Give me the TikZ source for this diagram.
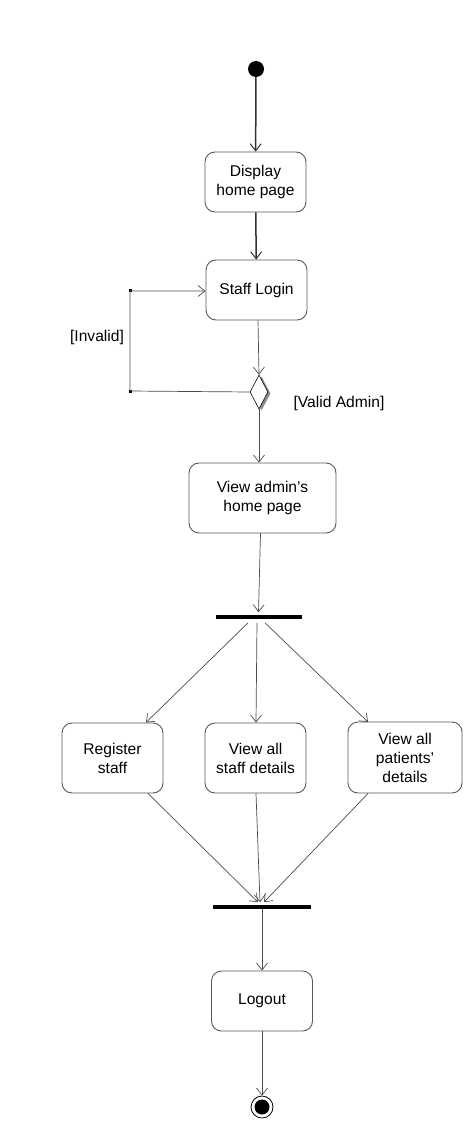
\documentclass[tikz,border=0pt]{standalone}
\usepackage{fontspec}
\setmainfont[Ligatures=ResetAll]{Liberation Sans}
\usetikzlibrary{arrows.meta,shapes.geometric,calc}
\begin{document}
\begin{tikzpicture}[x=1pt,y=-1pt,
  act/.style={draw=black!65, line width=0.9pt, rounded corners=10pt, fill=white,
    inner sep=0pt, align=center, font=\fontsize{15.6}{19}\selectfont},
  bar/.style={fill=black, inner sep=0pt, minimum height=3.2pt},
  flow/.style={draw=black!70, line width=0.7pt, -{Straight Barb[length=7pt,width=11pt,line width=0.7pt]}},
  thickflow/.style={draw=black!80, line width=1.5pt, -{Straight Barb[length=7pt,width=11pt,line width=1pt]}},
  lbl/.style={inner sep=0pt, font=\fontsize{15.6}{19}\selectfont}]
\useasboundingbox (0,0) rectangle (473,1131);
\fill[white] (0,0) rectangle (473,1131);

% start
\node[circle, fill=black, minimum size=16pt, inner sep=0pt] (start) at (256,69) {};

% activities
\node[act, minimum width=101pt, minimum height=60pt] (disp) at (255.5,182) {Display\\home page};
\node[act, minimum width=101pt, minimum height=60pt] (login) at (256.5,290) {Staff Login};
\node[act, minimum width=147pt, minimum height=70pt] (admin) at (262.5,498) {View admin's\\home page};
\node[act, minimum width=101pt, minimum height=70pt] (reg) at (112.5,758) {Register\\staff};
\node[act, minimum width=101pt, minimum height=70pt] (staff) at (255.5,758) {View all\\staff details};
\node[act, minimum width=114pt, minimum height=71pt] (pat) at (405,757.5) {View all\\patients'\\details};
\node[act, minimum width=101pt, minimum height=60pt] (logout) at (262,1001) {Logout};

% decision
\node[diamond, fill=black!45, minimum width=18pt, minimum height=34pt, inner sep=0pt] (decsh) at (261.5,393.5) {};
\node[diamond, draw=black, fill=white, line width=0.6pt, minimum width=18pt, minimum height=34pt, inner sep=0pt] (dec) at (259,392) {};

% bars
\node[bar, minimum width=86pt] (fork) at (258.5,617) {};
\node[bar, minimum width=98pt] (join) at (262,907) {};

% end
\node[circle, draw=black, line width=0.8pt, minimum size=22pt, inner sep=0pt] (endo) at (262,1107) {};
\node[circle, fill=black, minimum size=15pt, inner sep=0pt] (endi) at (262,1107) {};

% loop corners
\coordinate (c1) at (130,391);
\coordinate (c2) at (130,291);
\fill[black] ($(c1)+(-1.5,-1.5)$) rectangle ($(c1)+(1.5,1.5)$);
\fill[black] ($(c2)+(-1.5,-1.5)$) rectangle ($(c2)+(1.5,1.5)$);

% connectors
\draw[thickflow] (start) -- (disp);
\draw[thickflow] (disp) -- (login);
\draw[flow] ($(login.south)+(1.5,0)$) -- (dec.north);
\draw[flow] (dec.west) -- (c1) -- (c2) -- (login.west |- c2);
\draw[flow] (dec.south) -- (dec.south |- admin.north);
\draw[flow] ($(admin.south)+(-2,0)$) -- ($(fork.north)+(0,-3)$);

\draw[flow] ($(fork.south)+(-10.5,4)$) -- ($(reg.north)+(33.5,0)$);
\draw[flow] ($(fork.south)+(-1.5,4)$) -- ($(staff.north)+(0.5,0)$);
\draw[flow] ($(fork.south)+(6.5,4)$) -- ($(pat.north)+(-37,0.5)$);

\draw[flow] ($(reg.south)+(35.5,0)$) -- ($(join.north)+(-4,-3)$);
\draw[flow] ($(staff.south)+(0.5,0)$) -- ($(join.north)+(-2,-3)$);
\draw[flow] ($(pat.south)+(-37,0)$) -- ($(join.north)+(2,-3)$);

\draw[flow] (join.south) -- (logout.north);
\draw[flow] (logout.south) -- (endo.north);

% guards
\node[lbl] (inv) at (97,337) {[Invalid]};
\node[lbl] (val) at (339,403) {[Valid Admin]};
\end{tikzpicture}
\end{document}
